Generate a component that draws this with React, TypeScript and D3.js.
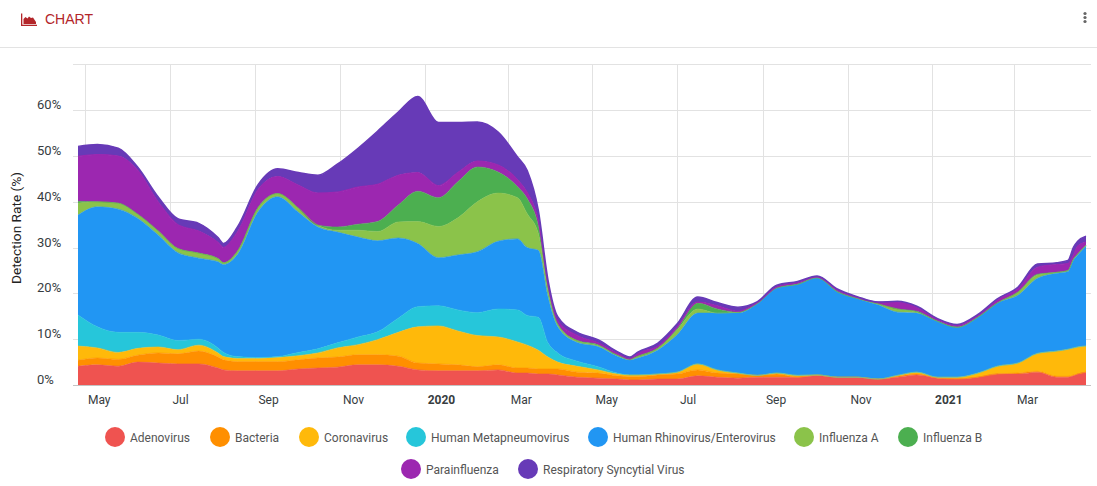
import React from "react";
import * as d3 from "d3";

const dates = ["2019-04-26","2019-05-10","2019-05-25","2019-06-08","2019-06-23","2019-07-07","2019-07-22","2019-08-05","2019-08-09","2019-08-19","2019-09-03","2019-09-17","2019-10-02","2019-10-16","2019-10-30","2019-11-14","2019-11-28","2019-12-13","2019-12-27","2020-01-11","2020-01-25","2020-02-08","2020-02-23","2020-03-08","2020-03-15","2020-03-23","2020-03-30","2020-04-06","2020-04-20","2020-05-05","2020-05-19","2020-05-28","2020-06-03","2020-06-17","2020-07-01","2020-07-16","2020-07-30","2020-08-14","2020-08-28","2020-09-11","2020-09-26","2020-10-10","2020-10-25","2020-11-08","2020-11-23","2020-12-07","2020-12-21","2021-01-05","2021-01-19","2021-02-03","2021-02-17","2021-03-04","2021-03-18","2021-04-01","2021-04-09","2021-04-13","2021-04-16","2021-04-22"];

const adenovirus = [4.1,4.4,4.1,5.0,4.8,4.6,4.6,3.7,3.3,3.1,3.1,3.1,3.5,3.7,3.9,4.4,4.4,4.1,3.3,3.1,3.1,3.1,3.3,2.6,2.6,2.4,2.4,2.2,1.7,1.5,1.3,1.1,1.1,1.3,1.3,2.0,1.7,1.5,1.7,1.7,1.7,2.0,1.7,1.7,1.3,1.7,2.2,1.5,1.3,1.7,2.4,2.4,2.8,1.7,1.7,2.0,2.4,2.8];
const bacteria = [1.3,1.5,1.5,1.5,2.2,2.2,2.8,2.4,2.2,2.0,2.0,2.0,2.0,2.2,2.2,2.2,2.2,2.2,1.5,1.5,1.3,0.9,1.1,1.1,1.1,1.1,1.1,1.3,1.1,1.1,0.7,0.7,0.7,0.9,1.1,1.3,0.9,0.9,0.4,0.7,0,0.2,0,0,0,0.2,0.2,0,0,0,0,0.2,0.2,0.2,0.2,0.2,0,0];
const coronavirus = [3.1,2.2,1.5,1.5,1.3,0.9,1.3,0.9,0.7,0.7,0.7,0.9,0.9,1.1,2.0,2.2,3.3,5.2,7.9,8.3,7.4,6.8,6.1,5.7,5.0,4.1,2.6,1.5,1.3,0.7,0.4,0.4,0.4,0.2,0.4,1.3,0.7,0.2,0,0.2,0.4,0,0,0,0,0.2,0.4,0.2,0.4,0.9,1.7,2.2,3.9,5.5,5.9,5.9,5.9,5.7];
const metapneumovirus = [6.8,4.6,4.4,3.5,2.6,2.0,1.3,1.1,0.9,0.4,0.2,0.2,0.7,0.9,1.1,1.7,1.7,3.1,4.4,4.4,4.6,5.0,6.1,7.0,6.5,7.2,3.1,2.0,1.1,0.7,0.2,0,0,0,0,0,0,0,0,0,0,0,0,0,0,0,0,0,0,0,0,0,0,0,0,0,0,0];
const rhinovirus = [21.8,26.2,26.9,24.9,21.8,19.2,17.7,18.8,19.2,22.3,31.9,34.9,30.6,26.6,24.2,21.8,19.9,17.5,13.8,10.5,12.0,13.3,14.8,15.5,14.8,14.6,10.0,5.7,4.1,4.4,3.7,3.3,3.7,5.2,8.1,11.1,12.4,13.1,15.7,18.6,19.9,21.2,18.6,17.2,16.2,13.8,12.9,12.2,10.9,12.2,13.8,14.8,16.4,17.0,17.0,19.2,20.1,21.8];
const influenzaA = [2.6,1.1,1.3,0.9,0.9,0.9,1.1,0.7,0.4,0.7,0.9,0.7,0.9,0.4,0.4,1.5,2.0,3.5,4.8,6.8,8.1,10.9,10.5,9.0,7.4,3.7,1.5,0.4,0.4,0.2,0.2,0,0.4,0.4,1.1,0.9,0,0.2,0,0,0,0,0,0,0.2,0.7,0.2,0,0,0,0,0.7,0.7,0.2,0.2,0.2,0.2,0.2];
const influenzaB = [0.4,0,0,0,0,0,0,0,0,0,0,0,0,0,0.7,1.3,2.2,3.7,6.6,6.3,7.9,7.6,4.6,2.4,3.3,1.7,0.7,0.2,0,0.2,0,0.2,0,0,0.2,1.3,0.9,0,0,0,0,0,0,0,0,0,0.2,0,0,0,0,0,0.2,0,0,0,0,0];
const parainfluenza = [9.8,10.3,10.3,9.6,6.3,5.2,4.8,3.5,3.3,4.2,3.9,3.7,5.0,7.0,7.6,8.1,8.1,6.5,4.1,2.6,2.0,1.3,1.5,1.5,1.3,1.1,0.4,0.7,1.1,0.4,0.4,0,0.7,0.4,0.4,0.2,0.7,0.2,0.2,0.2,0.4,0.2,0.4,0.2,0.4,1.5,0.9,0.4,0.4,0.4,0.7,0.7,1.5,1.7,1.5,0.9,1.7,0.7];
const rsv = [2.2,2.2,1.7,0.7,1.1,1.3,1.7,1.1,0.9,1.1,1.1,1.7,2.8,3.9,6.1,8.5,11.6,13.8,16.6,13.8,10.9,8.5,7.2,5.0,4.8,2.2,1.1,0.9,0.7,0.7,0.4,0.4,0.2,0.7,0.7,1.1,0.7,0.9,0.2,0.4,0.2,0.2,0.2,0.2,0,0.2,0.2,0.2,0.2,0.2,0.2,0.4,0.7,0.4,0.7,1.7,1.1,1.3];

const seriesNames = ["Adenovirus","Bacteria","Coronavirus","Human Metapneumovirus","Human Rhinovirus/Enterovirus","Influenza A","Influenza B","Parainfluenza","Respiratory Syncytial Virus"];
const seriesValues = [adenovirus,bacteria,coronavirus,metapneumovirus,rhinovirus,influenzaA,influenzaB,parainfluenza,rsv];
const colors = ["#EF5350","#FF8F00","#FFB90A","#26C6DA","#2196F3","#8BC34A","#4CAF50","#9C27B0","#673AB7"];

const yTicks = [0,10,20,30,40,50,60,70];
const yLabels = [0,10,20,30,40,50,60];
const monthTicks = ["2019-05-01","2019-07-01","2019-09-01","2019-11-01","2020-01-01","2020-03-01","2020-05-01","2020-07-01","2020-09-01","2020-11-01","2021-01-01","2021-03-01"];
const monthLabels = ["May","Jul","Sep","Nov","2020","Mar","May","Jul","Sep","Nov","2021","Mar"];
// legend circle centres [x, y]
const legendPos = [[115,437],[220,437],[309,437],[416,437],[598,437],[804,437],[908,437],[411,469],[528,469]];

const parse = d3.utcParse("%Y-%m-%d");

export default function App() {
  const W = 1097, H = 486;
  const x = d3.scaleUtc().domain([parse(dates[0])!, parse(dates[dates.length - 1])!]).range([78, 1086]);
  const y = d3.scaleLinear().domain([0, 70]).range([385, 64.4]);
  const rows = dates.map((d, i) => {
    const r: any = { date: parse(d) };
    seriesNames.forEach((n, k) => (r[n] = seriesValues[k][i]));
    return r;
  });
  const stacked = d3.stack().keys(seriesNames)(rows);
  const area = d3.area<any>().x(d => x(d.data.date)).y0(d => y(d[0])).y1(d => y(d[1])).curve(d3.curveMonotoneX);
  const topLine = d3.line<any>().x(d => x(d.data.date)).y(d => y(d[1])).curve(d3.curveMonotoneX);
  const font = "Roboto, sans-serif";
  return (
    <svg width={W} height={H} style={{ position: "absolute", left: 0, top: 0, background: "#fff" }} fontFamily={font}>
      <g fill="#b3262a">
        <rect x={21} y={13.5} width={1.3} height={12.5} />
        <rect x={21} y={24.7} width={16} height={1.3} />
        <path d="M23.5 24 L23.5 19 L25.5 17 L27.5 18.5 L29 16.5 L31 18 L33 17.5 L36 22 L36 24 Z" />
      </g>
      <text x={45} y={24} fontSize={14} fill="#b3262a" fontFamily="'Liberation Sans', Arial, sans-serif">CHART</text>
      <g fill="#666">
        <circle cx={1085} cy={13.5} r={1.6} />
        <circle cx={1085} cy={17.5} r={1.6} />
        <circle cx={1085} cy={21.5} r={1.6} />
      </g>
      <line x1={0} x2={W} y1={47.5} y2={47.5} stroke="#e3e3e3" />

      <g stroke="#e2e2e2" strokeWidth={1}>
        {yTicks.map(t => (
          <line key={t} x1={73} x2={1091} y1={Math.round(y(t)) + 0.5} y2={Math.round(y(t)) + 0.5} />
        ))}
        {monthTicks.map(t => (
          <line key={t} x1={Math.round(x(parse(t)!)) + 0.5} x2={Math.round(x(parse(t)!)) + 0.5} y1={64.5} y2={385} />
        ))}
      </g>
      <g>
        {stacked.map((s, i) => (
          <path key={i} d={area(s as any)!} fill={colors[i]} />
        ))}
        {stacked.map((s, i) => (
          <path key={i} d={topLine(s as any)!} fill="none" stroke={colors[i]} strokeWidth={i === 8 ? 1.5 : i === 7 ? 1.2 : 0.6} />
        ))}
      </g>
      <line x1={73} x2={1091} y1={385.5} y2={385.5} stroke="#c4c4c4" />
      <g fontSize={13} fill="#373d3f">
        {yLabels.map(t => (
          <text key={t} x={37} y={y(t) + 0.5 - 1.5}>{t}%</text>
        ))}
      </g>
      <g fontSize={12} fill="#373d3f">
        {monthTicks.map((t, i) => (
          <text key={t} x={x(parse(t)!) + 3} y={404} fontWeight={/^\d+$/.test(monthLabels[i]) ? 700 : 400}>{monthLabels[i]}</text>
        ))}
      </g>
      <text transform="translate(21,228) rotate(-90)" textAnchor="middle" fontSize={13.7} fill="#222">Detection Rate (%)</text>
      <g>
        {seriesNames.map((n, i) => (
          <g key={n}>
            <circle cx={legendPos[i][0]} cy={legendPos[i][1]} r={10} fill={colors[i]} />
            <text x={legendPos[i][0] + 15} y={legendPos[i][1] + 5} fontSize={12} fill="#555">{n}</text>
          </g>
        ))}
      </g>
    </svg>
  );
}
